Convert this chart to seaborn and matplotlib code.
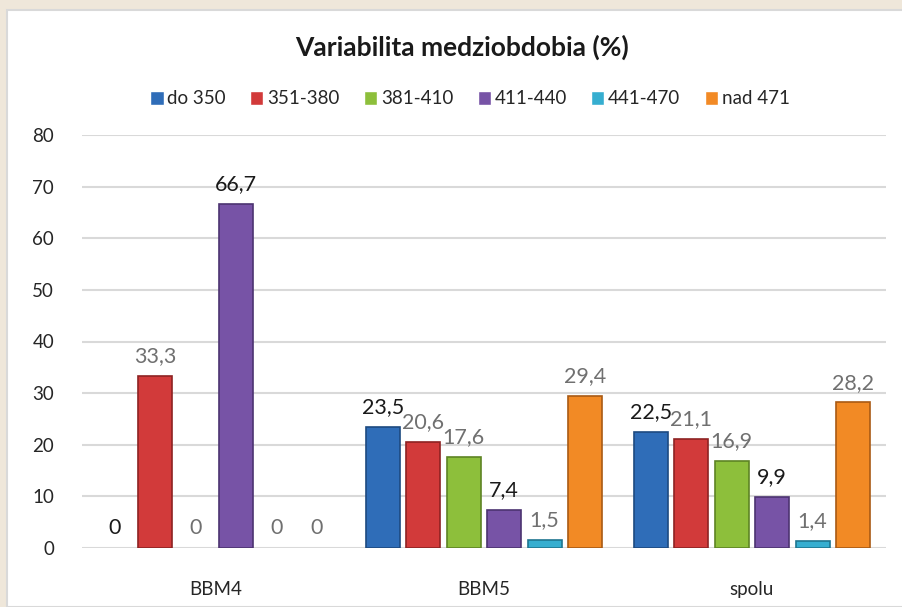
import pandas as pd
import seaborn as sns
import matplotlib.pyplot as plt
from matplotlib.patches import Rectangle

# data
groups = ['BBM4', 'BBM5', 'spolu']
ranges = ['do 350', '351-380', '381-410', '411-440', '441-470', 'nad 471']
do_350 = [0, 23.5, 22.5]
r351_380 = [33.3, 20.6, 21.1]
r381_410 = [0, 17.6, 16.9]
r411_440 = [66.7, 7.4, 9.9]
r441_470 = [0, 1.5, 1.4]
nad_471 = [0, 29.4, 28.2]

colors = ['#2f6db8', '#d23a3a', '#8dbf3b', '#7753a6', '#36aed0', '#f28a25']
edges = ['#1d4a80', '#8e2222', '#5d8424', '#4c3371', '#1f7690', '#a95a14']
label_colors = ['#1a1a1a', '#707070', '#707070', '#1a1a1a', '#707070', '#707070']

series = [do_350, r351_380, r381_410, r411_440, r441_470, nad_471]
rows = []
for name, vals in zip(ranges, series):
    for g, v in zip(groups, vals):
        rows.append({'skupina': g, 'interval': name, 'hodnota': v})
df = pd.DataFrame(rows)

sns.set_theme(style='white')
plt.rcParams['font.family'] = ['Lato', 'DejaVu Sans']

fig = plt.figure(figsize=(9.03, 6.07), dpi=100)
fig.patch.set_facecolor('#efe7da')
fig.patches.append(Rectangle((7 / 903, 0), 1, 1 - 10 / 607, transform=fig.transFigure,
                             facecolor='white', edgecolor='#d9d9d9', lw=1.5, zorder=-10))

ax = fig.add_axes([82 / 903, 1 - 548 / 607, 804 / 903, 413 / 607])
ax.set_facecolor('none')
sns.barplot(data=df, x='skupina', y='hodnota', hue='interval', order=groups,
            hue_order=ranges, palette=colors, width=0.905, gap=0.16,
            saturation=1, ax=ax, legend=True)

for cont, ec, lc in zip(ax.containers, edges, label_colors):
    for bar in cont:
        bar.set_edgecolor(ec)
        bar.set_linewidth(1.2 if bar.get_height() > 0 else 0)
    labels = [f'{b.get_height():g}'.replace('.', ',') for b in cont]
    ax.bar_label(cont, labels=labels, padding=7, fontsize=15.5, color=lc)

ax.set_ylim(0, 80)
ax.set_xlim(-0.5, 2.5)
ax.set_yticks(range(0, 81, 10))
ax.yaxis.grid(True, color='#d9d9d9', lw=1.5)
ax.set_axisbelow(True)
for s in ax.spines.values():
    s.set_visible(False)
ax.tick_params(axis='both', length=0, labelsize=13.5, colors='#262626')
ax.tick_params(axis='y', pad=20)
ax.tick_params(axis='x', pad=24)
ax.set_xlabel('')
ax.set_ylabel('')

handles, lbls = ax.get_legend_handles_labels()
ax.legend(handles, lbls, loc='center', bbox_to_anchor=(470 / 903, 1 - 99 / 607),
          bbox_transform=fig.transFigure, ncol=6, frameon=False, fontsize=13.5,
          handlelength=0.7, handleheight=0.7, handletextpad=0.2, columnspacing=1.3)

fig.text(462 / 903, 1 - 47 / 607, 'Variabilita medziobdobia (%)', ha='center', va='center',
         fontsize=19, fontweight='bold', color='#1a1a1a')

plt.savefig('out.png', dpi=100, facecolor=fig.get_facecolor())
